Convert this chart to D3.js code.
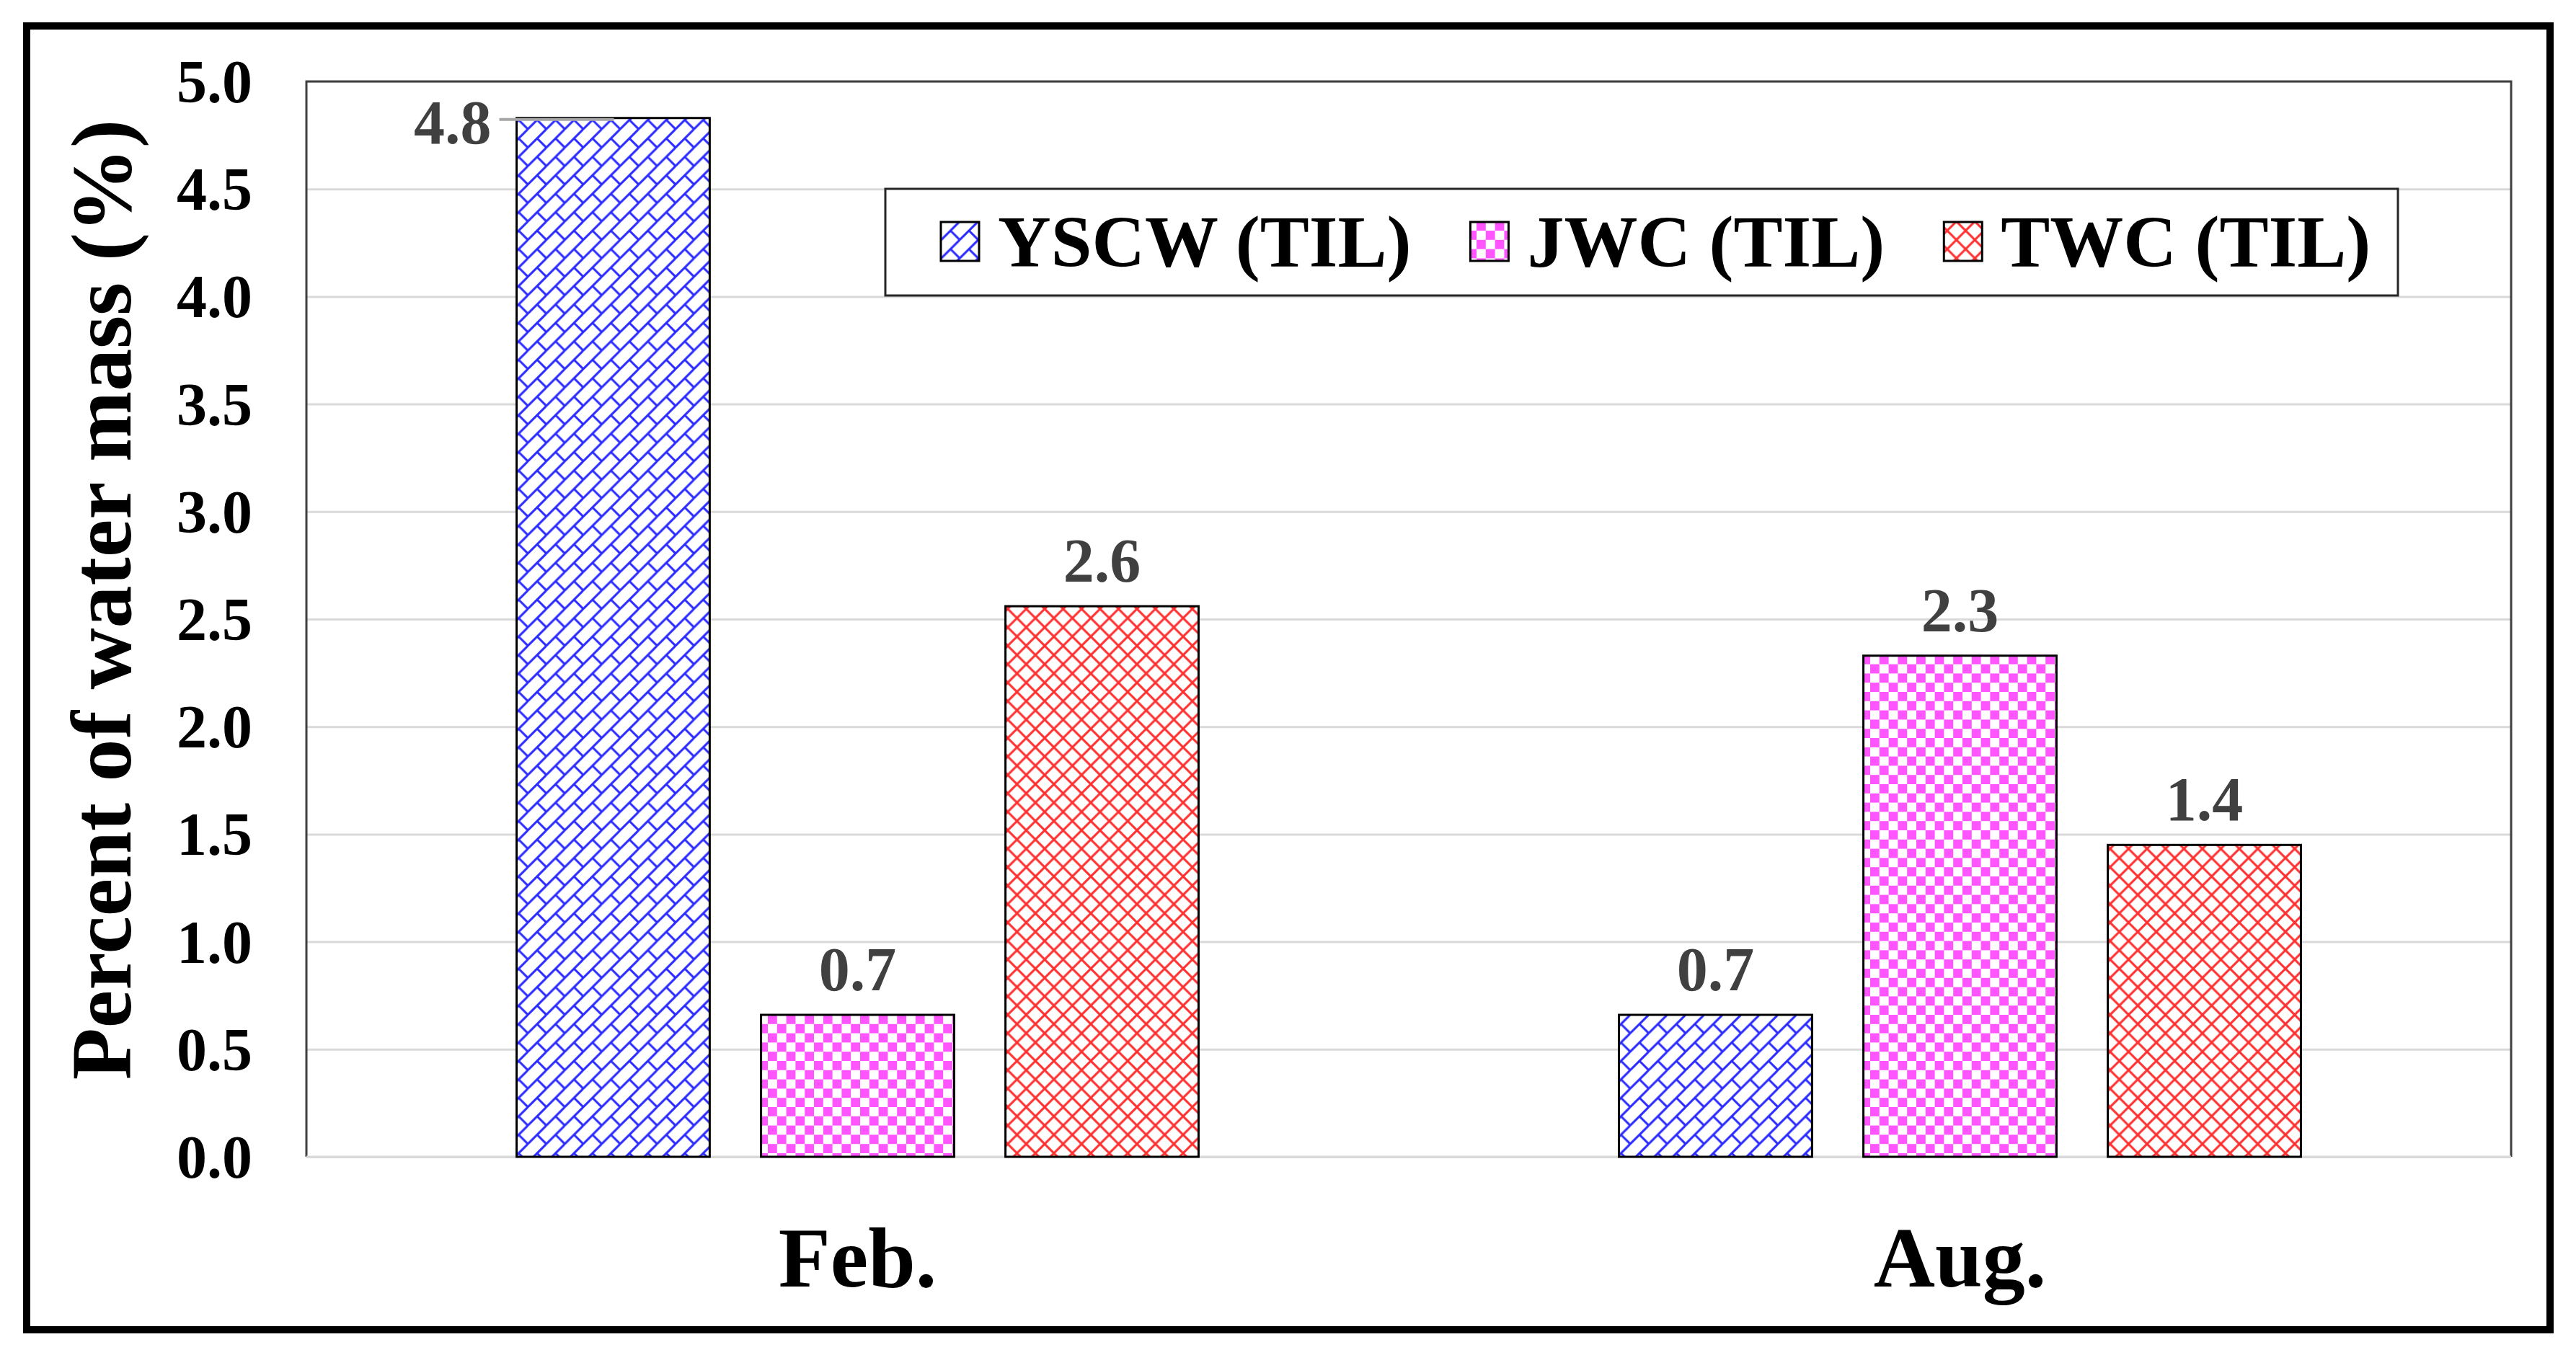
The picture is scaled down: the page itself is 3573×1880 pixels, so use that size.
<!DOCTYPE html>
<html><head><meta charset="utf-8">
<script src="https://cdn.jsdelivr.net/npm/d3@7"></script>
<style>body{margin:0;background:#fff}svg{display:block}</style>
</head><body>
<script>
// ---- data ----
const categories = ["Feb.", "Aug."];
const seriesNames = ["YSCW (TIL)", "JWC (TIL)", "TWC (TIL)"];
const yscwValues = [4.83, 0.66];
const jwcValues = [0.66, 2.33];
const twcValues = [2.56, 1.45];
const yTickValues = [0, 0.5, 1.0, 1.5, 2.0, 2.5, 3.0, 3.5, 4.0, 4.5, 5.0];
const yTitle = "Percent of water mass (%)";

const seriesValues = [yscwValues, jwcValues, twcValues];
const patternIds = ["pYSCW", "pJWC", "pTWC"];

const W = 3573, H = 1880;
const FONT = "'Liberation Serif','Times New Roman',serif";
const plot = {left: 425, right: 3483, top: 113, bottom: 1605};

const svg = d3.select("body").append("svg").attr("width", W).attr("height", H);
svg.append("rect").attr("width", W).attr("height", H).attr("fill", "#fff");

// ---- patterns ----
const defs = svg.append("defs");
const T = 25.6;
// diagonal brick (blue)
const pb = defs.append("pattern").attr("id", "pYSCW").attr("patternUnits", "userSpaceOnUse")
  .attr("width", T).attr("height", T);
pb.append("rect").attr("width", T).attr("height", T).attr("fill", "#fff");
pb.append("path").attr("d", `M-2,${T+2} L${T+2},-2 M${T/2},${T/2} L${T+2},${T+2} M-2,-2 L1,1`)
  .attr("stroke", "#2a2aff").attr("stroke-width", 3).attr("fill", "none");
// checkerboard (magenta)
const pj = defs.append("pattern").attr("id", "pJWC").attr("patternUnits", "userSpaceOnUse")
  .attr("width", T).attr("height", T);
pj.append("rect").attr("width", T).attr("height", T).attr("fill", "#fff");
pj.append("rect").attr("x", 0).attr("y", 0).attr("width", T/2).attr("height", T/2).attr("fill", "#ff55ff");
pj.append("rect").attr("x", T/2).attr("y", T/2).attr("width", T/2).attr("height", T/2).attr("fill", "#ff55ff");
// outlined diamond (red)
const pt = defs.append("pattern").attr("id", "pTWC").attr("patternUnits", "userSpaceOnUse")
  .attr("width", T).attr("height", T);
pt.append("rect").attr("width", T).attr("height", T).attr("fill", "#fff");
pt.append("path").attr("d", `M-2,-2 L${T+2},${T+2} M-2,${T+2} L${T+2},-2`)
  .attr("stroke", "#ff3030").attr("stroke-width", 3).attr("fill", "none");

// ---- outer frame ----
svg.append("rect").attr("x", 37).attr("y", 36).attr("width", 3500).attr("height", 1809)
  .attr("fill", "none").attr("stroke", "#000").attr("stroke-width", 10);

// ---- scales ----
const x0 = d3.scaleBand().domain(categories).range([plot.left, plot.right]).padding(0);
const x1 = d3.scaleBand().domain(seriesNames).range([0, x0.bandwidth()])
  .paddingInner(0.21).paddingOuter(0.86);
const y = d3.scaleLinear().domain([0, 5]).range([plot.bottom, plot.top]);

// ---- gridlines ----
const grid = svg.append("g").attr("transform", `translate(${plot.left},0)`)
  .call(d3.axisLeft(y).tickValues(yTickValues).tickSize(-(plot.right - plot.left)).tickFormat(""));
grid.select(".domain").remove();
grid.selectAll(".tick line").attr("stroke", "#d9d9d9").attr("stroke-width", 3);

// plot border (left/top/right dark)
svg.append("path")
  .attr("d", `M${plot.left},${plot.bottom} V${plot.top} H${plot.right} V${plot.bottom}`)
  .attr("fill", "none").attr("stroke", "#404040").attr("stroke-width", 3);

// x axis line
svg.append("line").attr("x1", plot.left).attr("x2", plot.right)
  .attr("y1", y(0)).attr("y2", y(0)).attr("stroke", "#d9d9d9").attr("stroke-width", 3);

// ---- y axis labels ----
const yAxis = svg.append("g").attr("transform", `translate(350,0)`)
  .call(d3.axisLeft(y).tickValues(yTickValues).tickSize(0).tickPadding(0).tickFormat(d3.format(".1f")));
yAxis.select(".domain").remove();
yAxis.selectAll("text").attr("font-family", FONT).attr("font-weight", "bold")
  .attr("font-size", 84).attr("fill", "#000").attr("dy", "0.34em");

// ---- bars ----
const fmt = d3.format(".1f");
const groups = svg.append("g").selectAll("g").data(categories).join("g")
  .attr("transform", d => `translate(${x0(d)},0)`);
groups.each(function(cat, ci) {
  const g = d3.select(this);
  seriesNames.forEach((s, si) => {
    const v = seriesValues[si][ci];
    g.append("rect")
      .attr("x", x1(s)).attr("y", y(v))
      .attr("width", x1.bandwidth()).attr("height", y(0) - y(v))
      .attr("fill", `url(#${patternIds[si]})`)
      .attr("stroke", "#000").attr("stroke-width", 3);
  });
});

// ---- data labels ----
const labelG = svg.append("g");
categories.forEach((cat, ci) => {
  seriesNames.forEach((s, si) => {
    const v = seriesValues[si][ci];
    const bx = x0(cat) + x1(s);
    const top = y(v);
    if (y(v) - 80 < plot.top) {
      // label placed to the left with leader line
      labelG.append("line").attr("x1", bx - 24).attr("x2", bx + 135)
        .attr("y1", top + 2).attr("y2", top + 2)
        .attr("stroke", "#a6a6a6").attr("stroke-width", 4);
      labelG.append("text").attr("x", bx - 35).attr("y", top + 35)
        .attr("text-anchor", "end").attr("font-family", FONT).attr("font-weight", "bold")
        .attr("font-size", 86).attr("fill", "#404040").text(fmt(v));
    } else {
      labelG.append("text").attr("x", bx + x1.bandwidth() / 2).attr("y", top - 34)
        .attr("text-anchor", "middle").attr("font-family", FONT).attr("font-weight", "bold")
        .attr("font-size", 86).attr("fill", "#404040").text(fmt(v));
    }
  });
});

// ---- x category labels ----
svg.append("g").selectAll("text").data(categories).join("text")
  .attr("x", d => x0(d) + x0.bandwidth() / 2).attr("y", 1785)
  .attr("text-anchor", "middle").attr("font-family", FONT).attr("font-weight", "bold")
  .attr("font-size", 118).attr("fill", "#000").text(d => d);

// ---- y title ----
svg.append("text").attr("transform", "translate(181,832) rotate(-90)")
  .attr("text-anchor", "middle").attr("font-family", FONT).attr("font-weight", "bold")
  .attr("font-size", 118).attr("fill", "#000").text(yTitle);

// ---- legend ----
const leg = svg.append("g");
leg.append("rect").attr("x", 1228).attr("y", 262).attr("width", 2098).attr("height", 148)
  .attr("fill", "#fff").attr("stroke", "#262626").attr("stroke-width", 3);
let lx = 1305;
seriesNames.forEach((s, si) => {
  leg.append("rect").attr("x", lx).attr("y", 308).attr("width", 53).attr("height", 54)
    .attr("fill", `url(#${patternIds[si]})`).attr("stroke", "#000").attr("stroke-width", 3);
  const t = leg.append("text").attr("x", lx + 79).attr("y", 370)
    .attr("font-family", FONT).attr("font-weight", "bold").attr("font-size", 102)
    .attr("fill", "#000").text(s);
  lx = lx + 79 + t.node().getComputedTextLength() + 82;
});
</script>
</body></html>
